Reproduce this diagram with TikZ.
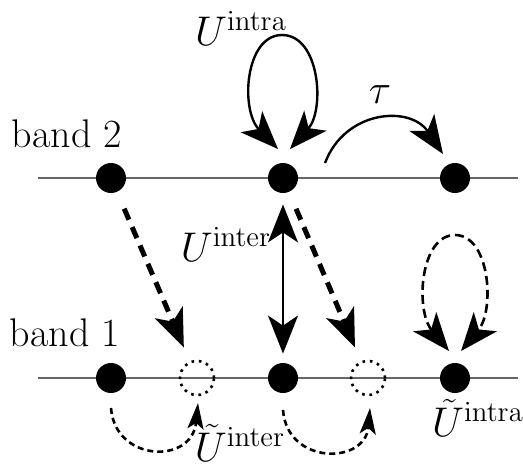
\documentclass[tikz,border=0pt]{standalone}
\usetikzlibrary{arrows.meta,calc}
\begin{document}
\begin{tikzpicture}[x=0.5pt,y=-0.5pt,
  font=\fontsize{20}{24}\selectfont,
  dot/.style={circle,fill=black,inner sep=0pt,minimum size=15pt},
  ghost/.style={circle,draw,line width=1.3pt,dash pattern=on 1.3pt off 2.4pt,inner sep=0pt,minimum size=17pt},
  bandline/.style={draw=black!60,line width=0.6pt},
  solidarc/.style={line width=1.2pt},
  bigtip/.tip={Stealth[length=19pt,width=15pt,inset=5pt]},
  smalltip/.tip={Stealth[length=13pt,width=8pt,inset=3pt]},
  hop/.style={line width=2.5pt,dash pattern=on 6pt off 4pt,-bigtip,shorten <=9pt,shorten >=7.5pt},
  dashloop/.style={line width=1.3pt,dash pattern=on 4.5pt off 2.5pt},
  dasharc/.style={line width=1.3pt,dash pattern=on 3pt off 2pt,-smalltip},
  lab/.style={inner sep=0pt}
]
\useasboundingbox (0,0) rectangle (523,468);

% band lines
\coordinate (l2s) at (38,178);
\coordinate (l2e) at (518,178);
\coordinate (l1s) at (38,378);
\coordinate (l1e) at (518,378);
\draw[bandline] (l2s) -- (l2e);
\draw[bandline] (l1s) -- (l1e);

% sites
\node[dot] (a2) at (111,178) {};
\node[dot] (b2) at (283,178) {};
\node[dot] (c2) at (455,178) {};
\node[dot] (a1) at (111,378) {};
\node[dot] (b1) at (283,378) {};
\node[dot] (c1) at (455,378) {};
\node[ghost] (d1) at (197,378) {};
\node[ghost] (e1) at (368,378) {};

% labels
\node[lab] (band2) at (67,134) {band 2};
\node[lab] (band1) at (65,333) {band 1};
\node[lab] (Uintra) at (241,28) {$U^{\mathrm{intra}}$};
\node[lab] (tau) at (380,95) {$\tau$};
\node[lab] (Uinter) at (226,244) {$U^{\mathrm{inter}}$};
\node[lab] (tUinter) at (240,443) {$\tilde U^{\mathrm{inter}}$};
\node[lab] (tUintra) at (478,418) {$\tilde U^{\mathrm{intra}}$};

% intra loop on band 2
\coordinate (ls) at ($(b2)+(-5,-29)$);
\coordinate (le) at ($(b2)+(7,-29)$);
\draw[solidarc,bigtip-bigtip] (ls) .. controls (240,110) and (245,35) .. (282,35)
  .. controls (320,35) and (325,110) .. (le);

% tau hop
\coordinate (ts) at ($(b2)+(42,-15)$);
\coordinate (te) at ($(c2)+(-12,-24)$);
\draw[solidarc,-bigtip] (ts) .. controls (345,110) and (410,105) .. (te);

% inter-band hops
\draw[hop] (a2) -- (d1);
\draw[hop] (b2) -- (e1);
\draw[line width=1.2pt,bigtip-bigtip,shorten <=5.5pt,shorten >=4.5pt] (b2) -- (b1);

% dashed intra loop on band 1
\coordinate (ms) at ($(c1)+(-6,-27)$);
\coordinate (me) at ($(c1)+(6,-27)$);
\draw[dashloop,bigtip-bigtip] (ms) .. controls (415,310) and (420,235) .. (455,235)
  .. controls (490,235) and (495,310) .. (me);

% dashed inter arcs below band 1
\coordinate (p1) at ($(a1)+(0,30)$);
\coordinate (q1) at ($(d1)+(1,25)$);
\draw[dasharc] (p1) .. controls (115,462) and (192,465) .. (q1);
\coordinate (p2) at ($(b1)+(0,32)$);
\coordinate (q2) at ($(e1)+(2,30)$);
\draw[dasharc] (p2) .. controls (287,465) and (365,465) .. (q2);
\end{tikzpicture}
\end{document}
